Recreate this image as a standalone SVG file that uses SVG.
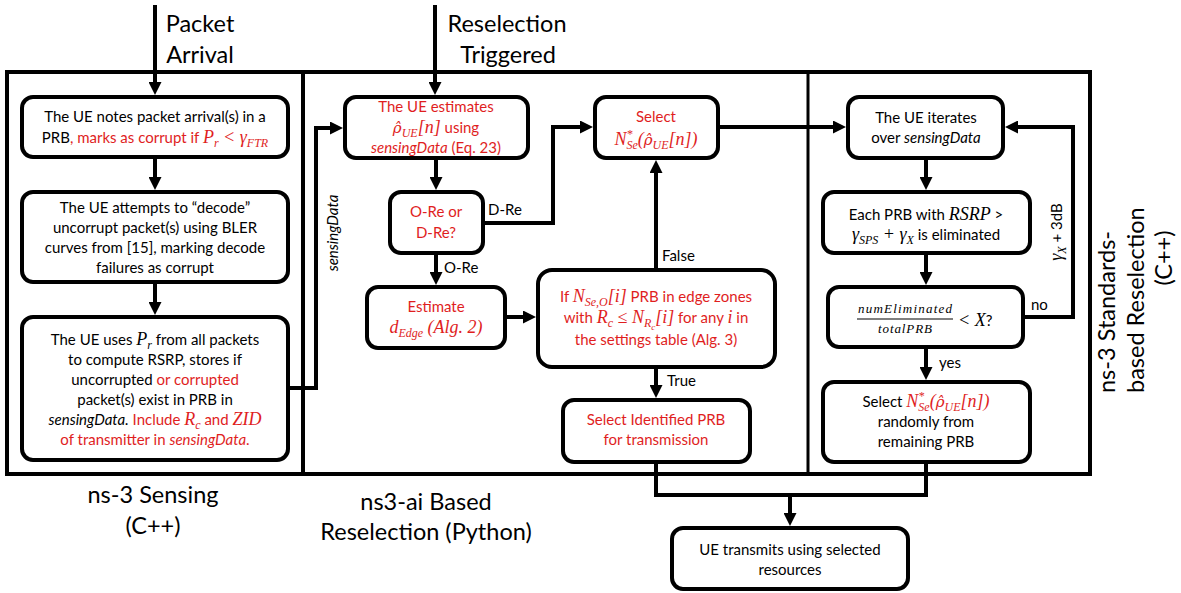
<svg xmlns="http://www.w3.org/2000/svg" width="1181" height="593" viewBox="0 0 1181 593">
<defs>
<marker id="ah" viewBox="0 0 13 13" refX="5" refY="6.5" markerWidth="13" markerHeight="13" markerUnits="userSpaceOnUse" orient="auto"><path d="M0,0 L13,6.5 L0,13 z" fill="#000"/></marker>
<style>
.box{fill:#fff;stroke:#000;stroke-width:4}
.frame{fill:none;stroke:#000;stroke-width:4}
.w{fill:none;stroke:#000;stroke-width:4;marker-end:url(#ah)}
.w0{fill:none;stroke:#000;stroke-width:4}
text{font-family:Lato,"Noto Sans",sans-serif;font-size:15px;fill:#000}
.c{text-anchor:middle}
.red{fill:#e01e1e}
.m{font-family:"Liberation Serif",serif;font-style:italic;font-size:18px}
.rho{font-family:"DejaVu Serif",serif;font-style:italic;font-size:15px}
.it{font-style:italic}
.big{font-size:23.5px}
.s{font-size:12px}
.ss{font-size:9px}
.fr{font-family:"Liberation Serif",serif;font-style:italic;font-size:13px}
</style>
</defs>

<!-- panel frame -->
<g id="frame">
<rect class="frame" x="7" y="72" width="1083" height="402"/>
<line class="frame" x1="303" y1="72" x2="303" y2="474"/>
<line x1="808" y1="72" x2="808" y2="474" stroke="#000" stroke-width="3"/>
</g>

<!-- panel titles and inputs -->
<g id="titles">
<text class="big c" x="200" y="32">Packet</text>
<text class="big c" x="200" y="63">Arrival</text>
<text class="big c" x="507" y="32">Reselection</text>
<text class="big c" x="508" y="63">Triggered</text>
<text class="big c" x="153" y="503">ns-3 Sensing</text>
<text class="big c" x="153" y="534">(C++)</text>
<text class="big c" x="426" y="510">ns3-ai Based</text>
<text class="big c" x="426" y="540">Reselection (Python)</text>
<text class="big" transform="translate(1115,393) rotate(-90)">ns-3 Standards-</text>
<text class="big" transform="translate(1144,393) rotate(-90)">based Reselection</text>
<text class="big c" transform="translate(1172,258) rotate(-90)">(C++)</text>
</g>

<!-- connectors -->
<g id="connectors">
<path class="w" d="M155,5 V87"/>
<path class="w" d="M155,157 V182"/>
<path class="w" d="M155,282 V307"/>
<path class="w" d="M288,388 H316 V128 H335"/>
<path class="w" d="M435,5 V87"/>
<path class="w" d="M436,158 V182"/>
<path class="w" d="M483,223 H553 V127 H585"/>
<path class="w" d="M436,253 V277"/>
<path class="w" d="M505,317 H528"/>
<path class="w" d="M656,270 V168"/>
<path class="w" d="M656,367 V390"/>
<path class="w" d="M718,127 H838"/>
<path class="w" d="M926,158 V182"/>
<path class="w" d="M926,253 V277"/>
<path class="w" d="M1023,317 H1073 V127 H1013"/>
<path class="w" d="M926,347 V372"/>
<path class="w0" d="M656,462 V495 H926 V462"/>
<path class="w" d="M790,495 V518"/>
<text x="488" y="215">D-Re</text>
<text x="444" y="273">O-Re</text>
<text x="662" y="261">False</text>
<text x="667" y="386">True</text>
<text x="1031" y="310">no</text>
<text x="939" y="368">yes</text>
<text class="it c" transform="translate(338,233) rotate(-90)">sensingData</text>
<text class="c" transform="translate(1062,232) rotate(-90)"><tspan class="m">γ</tspan><tspan class="m s" dy="4">X</tspan><tspan dy="-4"> + 3dB</tspan></text>
</g>

<!-- ns-3 sensing -->
<g id="n-notes">
<rect class="box" x="22" y="97" width="266" height="60" rx="11"/>
<text class="c" x="155" y="122">The UE notes packet arrival(s) in a</text>
<text class="c" x="155" y="143">PRB<tspan class="red">, marks as corrupt if </tspan><tspan class="red m">P</tspan><tspan class="red m s" dy="4">r</tspan><tspan class="red m" dy="-4"> &lt; γ</tspan><tspan class="red m s" dy="4">FTR</tspan></text>
</g>
<g id="n-decode">
<rect class="box" x="22" y="192" width="266" height="90" rx="11"/>
<text class="c" x="155" y="213">The UE attempts to “decode”</text>
<text class="c" x="155" y="233">uncorrupt packet(s) using BLER</text>
<text class="c" x="155" y="253">curves from [15], marking decode</text>
<text class="c" x="155" y="273">failures as corrupt</text>
</g>
<g id="n-rsrp">
<rect class="box" x="22" y="317" width="266" height="143" rx="11"/>
<text class="c" x="155" y="345">The UE uses <tspan class="m">P</tspan><tspan class="m s" dy="4">r</tspan><tspan dy="-4"> from all packets</tspan></text>
<text class="c" x="155" y="365">to compute RSRP, stores if</text>
<text class="c" x="155" y="385">uncorrupted <tspan class="red">or corrupted</tspan></text>
<text class="c" x="155" y="405">packet(s) exist in PRB in</text>
<text class="c" x="155" y="425"><tspan class="it">sensingData.</tspan><tspan class="red"> Include </tspan><tspan class="red m">R</tspan><tspan class="red m s" dy="4">c</tspan><tspan class="red" dy="-4"> and </tspan><tspan class="red m">ZID</tspan></text>
<text class="c red" x="155" y="445">of transmitter in <tspan class="it">sensingData</tspan>.</text>
</g>

<!-- ns3-ai reselection -->
<g id="n-estimate-rho">
<rect class="box" x="345" y="97" width="183" height="61" rx="11"/>
<text class="c red" x="436" y="112">The UE estimates</text>
<text class="c red" x="436" y="133"><tspan class="rho">ρ̂</tspan><tspan class="m s" dy="4">UE</tspan><tspan class="m" dy="-4">[n]</tspan> using</text>
<text class="c red" x="436" y="153"><tspan class="it">sensingData</tspan> (Eq. 23)</text>
</g>
<g id="n-mode">
<rect class="box" x="390" y="192" width="93" height="61" rx="11"/>
<text class="c red" x="436" y="217">O-Re or</text>
<text class="c red" x="436" y="238">D-Re?</text>
</g>
<g id="n-edge">
<rect class="box" x="367" y="287" width="138" height="61" rx="11"/>
<text class="c red" x="436" y="312">Estimate</text>
<text class="c red" x="436" y="333"><tspan class="m">d</tspan><tspan class="m s" dy="4">Edge</tspan><tspan class="m" dy="-4"> (Alg. 2)</tspan></text>
</g>
<g id="n-zones">
<rect class="box" x="538" y="270" width="237" height="97" rx="14"/>
<text class="c red" x="656" y="302">If <tspan class="m">N</tspan><tspan class="m s" dy="4">Se,O</tspan><tspan class="m" dy="-4">[i]</tspan> PRB in edge zones</text>
<text class="c red" x="656" y="323">with <tspan class="m">R</tspan><tspan class="m s" dy="4">c</tspan><tspan class="m" dy="-4"> ≤ N</tspan><tspan class="m s" dy="4">R</tspan><tspan class="m ss" dy="3">c</tspan><tspan class="m" dy="-7">[i]</tspan> for any <tspan class="m">i</tspan> in</text>
<text class="c red" x="656" y="345">the settings table (Alg. 3)</text>
</g>
<g id="n-select-d">
<rect class="box" x="595" y="97" width="123" height="61" rx="11"/>
<text class="c red" x="656" y="122">Select</text>
<text class="c red" x="656" y="145"><tspan class="m">N</tspan><tspan class="m s" dy="-7">*</tspan><tspan class="m s" dx="-6" dy="11">Se</tspan><tspan class="m" dy="-4">(</tspan><tspan class="rho">ρ̂</tspan><tspan class="m s" dy="4">UE</tspan><tspan class="m" dy="-4">[n])</tspan></text>
</g>
<g id="n-select-o">
<rect class="box" x="563" y="400" width="187" height="62" rx="11"/>
<text class="c red" x="656" y="425">Select Identified PRB</text>
<text class="c red" x="656" y="445">for transmission</text>
</g>

<!-- ns-3 standards-based reselection -->
<g id="n-iterate">
<rect class="box" x="848" y="97" width="155" height="61" rx="11"/>
<text class="c" x="926" y="123">The UE iterates</text>
<text class="c" x="926" y="143">over <tspan class="it">sensingData</tspan></text>
</g>
<g id="n-eliminate">
<rect class="box" x="823" y="192" width="207" height="61" rx="11"/>
<text class="c" x="926" y="220">Each PRB with <tspan class="m">RSRP</tspan> &gt;</text>
<text class="c" x="926" y="240"><tspan class="m">γ</tspan><tspan class="m s" dy="4">SPS</tspan><tspan class="m" dy="-4"> + γ</tspan><tspan class="m s" dy="4">X</tspan><tspan dy="-4"> is eliminated</tspan></text>
</g>
<g id="n-ratio">
<rect class="box" x="828" y="287" width="195" height="60" rx="11"/>
<text class="fr c" x="905" y="313" textLength="94" lengthAdjust="spacing">numEliminated</text>
<line x1="857" y1="319" x2="953" y2="319" stroke="#000" stroke-width="1.2"/>
<text class="fr c" x="905" y="333" textLength="54" lengthAdjust="spacing">totalPRB</text>
<text x="958" y="326"><tspan class="m">&lt; X</tspan>?</text>
</g>
<g id="n-select-r">
<rect class="box" x="823" y="382" width="207" height="80" rx="11"/>
<text class="c" x="926" y="407">Select <tspan class="red m">N</tspan><tspan class="red m s" dy="-7">*</tspan><tspan class="red m s" dx="-6" dy="11">Se</tspan><tspan class="red m" dy="-4">(</tspan><tspan class="red rho">ρ̂</tspan><tspan class="red m s" dy="4">UE</tspan><tspan class="red m" dy="-4">[n])</tspan></text>
<text class="c" x="926" y="427">randomly from</text>
<text class="c" x="926" y="447">remaining PRB</text>
</g>

<!-- shared output -->
<g id="n-transmit">
<rect class="box" x="672" y="528" width="236" height="61" rx="11"/>
<text class="c" x="790" y="555">UE transmits using selected</text>
<text class="c" x="790" y="575">resources</text>
</g>
</svg>
